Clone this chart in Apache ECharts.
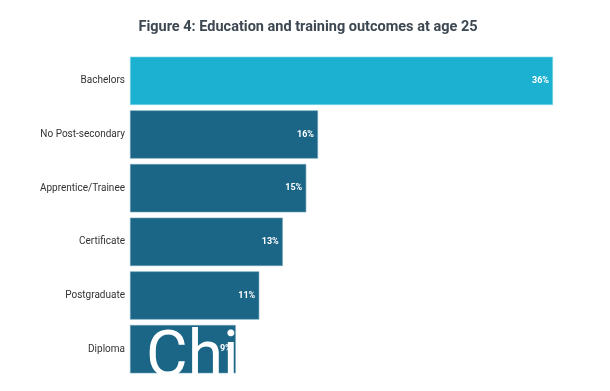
<!DOCTYPE html>
<html>
<head>
<meta charset="utf-8">
<script src="https://cdn.jsdelivr.net/npm/echarts@6/dist/echarts.min.js"></script>
<style>html,body{margin:0;padding:0;background:#fff;}#c{width:610px;height:391px;}</style>
</head>
<body>
<div id="c"></div>
<script>
var titleText = "Figure 4: Education and training outcomes at age 25";
var categories = ["Bachelors", "No Post-secondary", "Apprentice/Trainee", "Certificate", "Postgraduate", "Diploma"];
var values = [36, 16, 15, 13, 11, 9];
var barColors = ["#1cb0d1", "#1b6686", "#1b6686", "#1b6686", "#1b6686", "#1b6686"];
var overlayText = "Chi";

var chart = echarts.init(document.getElementById('c'), null, {renderer: 'canvas'});
chart.setOption({
  backgroundColor: '#ffffff',
  animation: false,
  title: {
    text: titleText,
    left: 303, top: 15, textAlign: 'center',
    textStyle: {fontFamily: 'Roboto', fontSize: 14.5, fontWeight: 'bold', color: '#3d4852'}
  },
  grid: {left: 130, top: 54, right: 10, bottom: 15, containLabel: false},
  xAxis: {
    type: 'value', min: 0, max: 40, show: false
  },
  yAxis: {
    type: 'category', data: categories, inverse: true,
    axisLine: {show: false}, axisTick: {show: false}, splitLine: {show: false},
    axisLabel: {fontFamily: 'Roboto', fontSize: 10, color: '#333', margin: 5}
  },
  series: [{
    type: 'bar',
    barCategoryGap: '10%',
    data: values.map(function(v, i){ return {value: v, itemStyle: {color: barColors[i], borderColor: i===0 ? '#7fd6ea' : '#6fa3bb', borderWidth: 0.6}}; }),
    label: {
      show: true, position: 'insideRight', distance: 4,
      formatter: function(p){ return p.value + '%'; },
      fontFamily: 'Roboto', fontSize: 9, fontWeight: 'bold', color: '#ffffff'
    }
  }],
  graphic: [{
    type: 'text', left: 146, top: 328, z: 100,
    style: {text: overlayText, fontFamily: 'Roboto', fontSize: 64, fill: '#ffffff'}
  }]
});
</script>
</body>
</html>
